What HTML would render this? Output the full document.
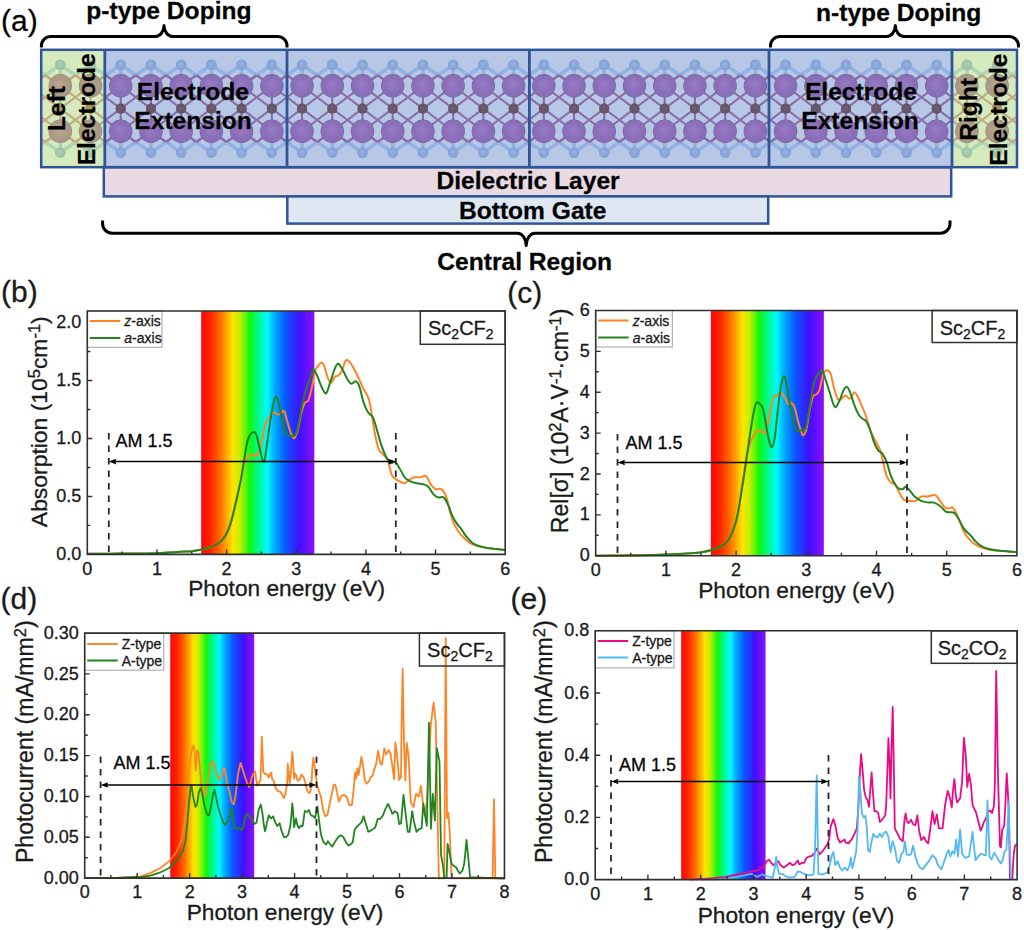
<!DOCTYPE html><html><head><meta charset="utf-8"><style>html,body{margin:0;padding:0;background:#fff;}svg{display:block;}text{stroke:#1a1a1a;stroke-width:0.3px;}</style></head><body>
<svg width="1024" height="930" viewBox="0 0 1024 930" font-family='"Liberation Sans", sans-serif'>
<rect width="1024" height="930" fill="#fff"/>
<defs>
<clipPath id="clip0"><rect x="41.2" y="49.8" width="63.599999999999994" height="117.39999999999999"/></clipPath>
<clipPath id="clip1"><rect x="104.8" y="49.8" width="847.2" height="117.39999999999999"/></clipPath>
<clipPath id="clip2"><rect x="952.0" y="49.8" width="65.0" height="117.39999999999999"/></clipPath>
<radialGradient id="gsc_blue" cx="50%" cy="50%" r="50%" fx="45%" fy="42%"><stop offset="0" stop-color="#987cc6"/><stop offset="0.7" stop-color="#8a6fb8"/><stop offset="0.92" stop-color="#8a6fb8"/><stop offset="1" stop-color="#6c5894"/></radialGradient>
<radialGradient id="gf_blue" cx="50%" cy="50%" r="50%" fx="45%" fy="42%"><stop offset="0" stop-color="#98b4e4"/><stop offset="0.7" stop-color="#86a4d8"/><stop offset="0.92" stop-color="#86a4d8"/><stop offset="1" stop-color="#6a8ac0"/></radialGradient>
<radialGradient id="gc_blue" cx="50%" cy="50%" r="50%" fx="45%" fy="42%"><stop offset="0" stop-color="#705e72"/><stop offset="0.7" stop-color="#665468"/><stop offset="0.92" stop-color="#665468"/><stop offset="1" stop-color="#4a3e4e"/></radialGradient>
<radialGradient id="gsc_green" cx="50%" cy="50%" r="50%" fx="45%" fy="42%"><stop offset="0" stop-color="#b8a894"/><stop offset="0.7" stop-color="#aa9a86"/><stop offset="0.92" stop-color="#aa9a86"/><stop offset="1" stop-color="#8a7c6c"/></radialGradient>
<radialGradient id="gf_green" cx="50%" cy="50%" r="50%" fx="45%" fy="42%"><stop offset="0" stop-color="#aed0b4"/><stop offset="0.7" stop-color="#a0c2a6"/><stop offset="0.92" stop-color="#a0c2a6"/><stop offset="1" stop-color="#84a88e"/></radialGradient>
<radialGradient id="gc_green" cx="50%" cy="50%" r="50%" fx="45%" fy="42%"><stop offset="0" stop-color="#ae9f5c"/><stop offset="0.7" stop-color="#a09254"/><stop offset="0.92" stop-color="#a09254"/><stop offset="1" stop-color="#807444"/></radialGradient>
</defs>
<defs><g id="col_blue">
<path d="M0 64.8L-15.11 75.30M0 64.8L15.11 75.30M0 64.8L0 75.30M0 152.6L-15.11 141.95M0 152.6L15.11 141.95M0 152.6L0 141.95" stroke="#92b2e4" stroke-width="3.6" fill="none"/>
<path d="M0 85.8L-15.11 75.30M0 85.8L15.11 75.30M0 85.8L0 75.30M0 131.3L-15.11 141.95M0 131.3L15.11 141.95M0 131.3L0 141.95" stroke="#8c6aa8" stroke-width="2.6" fill="none"/>
<path d="M0 85.8L-15.11 97.25M0 85.8L15.11 97.25M0 108.7L-15.11 97.25M0 108.7L15.11 97.25M0 108.7L-15.11 120.00M0 108.7L15.11 120.00M0 131.3L-15.11 120.00M0 131.3L15.11 120.00M0 85.8L0 131.3" stroke="#8c6aa8" stroke-width="2.1" fill="none"/>
<circle cx="0" cy="64.8" r="5.2" fill="url(#gf_blue)"/>
<circle cx="0" cy="152.6" r="5.2" fill="url(#gf_blue)"/>
<circle cx="0" cy="108.7" r="5.1" fill="url(#gc_blue)"/>
<circle cx="0" cy="85.8" r="11.7" fill="url(#gsc_blue)"/>
<circle cx="0" cy="131.3" r="11.7" fill="url(#gsc_blue)"/>
</g></defs>
<defs><g id="col_green">
<path d="M0 64.8L-15.11 75.30M0 64.8L15.11 75.30M0 64.8L0 75.30M0 152.6L-15.11 141.95M0 152.6L15.11 141.95M0 152.6L0 141.95" stroke="#b0d4b8" stroke-width="3.6" fill="none"/>
<path d="M0 85.8L-15.11 75.30M0 85.8L15.11 75.30M0 85.8L0 75.30M0 131.3L-15.11 141.95M0 131.3L15.11 141.95M0 131.3L0 141.95" stroke="#c2a97e" stroke-width="2.6" fill="none"/>
<path d="M0 85.8L-15.11 97.25M0 85.8L15.11 97.25M0 108.7L-15.11 97.25M0 108.7L15.11 97.25M0 108.7L-15.11 120.00M0 108.7L15.11 120.00M0 131.3L-15.11 120.00M0 131.3L15.11 120.00M0 85.8L0 131.3" stroke="#c2a97e" stroke-width="2.1" fill="none"/>
<circle cx="0" cy="64.8" r="5.2" fill="url(#gf_green)"/>
<circle cx="0" cy="152.6" r="5.2" fill="url(#gf_green)"/>
<circle cx="0" cy="108.7" r="5.1" fill="url(#gc_green)"/>
<circle cx="0" cy="85.8" r="11.7" fill="url(#gsc_green)"/>
<circle cx="0" cy="131.3" r="11.7" fill="url(#gsc_green)"/>
</g></defs>
<g clip-path="url(#clip0)">
<rect x="41.2" y="49.8" width="63.599999999999994" height="117.39999999999999" fill="#d5eabd"/>
<use href="#col_green" x="30.08"/>
<use href="#col_green" x="60.30"/>
<use href="#col_green" x="90.52"/>
<use href="#col_green" x="120.74"/>
</g>
<g clip-path="url(#clip1)">
<rect x="104.8" y="49.8" width="847.2" height="117.39999999999999" fill="#b7c8e6"/>
<use href="#col_blue" x="90.52"/>
<use href="#col_blue" x="120.74"/>
<use href="#col_blue" x="150.96"/>
<use href="#col_blue" x="181.18"/>
<use href="#col_blue" x="211.40"/>
<use href="#col_blue" x="241.62"/>
<use href="#col_blue" x="271.84"/>
<use href="#col_blue" x="302.06"/>
<use href="#col_blue" x="332.28"/>
<use href="#col_blue" x="362.50"/>
<use href="#col_blue" x="392.72"/>
<use href="#col_blue" x="422.94"/>
<use href="#col_blue" x="453.16"/>
<use href="#col_blue" x="483.38"/>
<use href="#col_blue" x="513.60"/>
<use href="#col_blue" x="543.82"/>
<use href="#col_blue" x="574.04"/>
<use href="#col_blue" x="604.26"/>
<use href="#col_blue" x="634.48"/>
<use href="#col_blue" x="664.70"/>
<use href="#col_blue" x="694.92"/>
<use href="#col_blue" x="725.14"/>
<use href="#col_blue" x="755.36"/>
<use href="#col_blue" x="785.58"/>
<use href="#col_blue" x="815.80"/>
<use href="#col_blue" x="846.02"/>
<use href="#col_blue" x="876.24"/>
<use href="#col_blue" x="906.46"/>
<use href="#col_blue" x="936.68"/>
<use href="#col_blue" x="966.90"/>
</g>
<g clip-path="url(#clip2)">
<rect x="952.0" y="49.8" width="65.0" height="117.39999999999999" fill="#d5eabd"/>
<use href="#col_green" x="936.68"/>
<use href="#col_green" x="966.90"/>
<use href="#col_green" x="997.12"/>
<use href="#col_green" x="1027.34"/>
</g>
<rect x="103.8" y="167.2" width="847.4000000000001" height="29.200000000000017" fill="#e8d9e2" stroke="#2f5597" stroke-width="2.5"/>
<rect x="287.3" y="196.4" width="480.90000000000003" height="27.19999999999999" fill="#dfe7f3" stroke="#2f5597" stroke-width="2.5"/>
<rect x="41.2" y="49.8" width="975.8" height="117.39999999999999" fill="none" stroke="#2f5597" stroke-width="2.5"/>
<line x1="104.8" y1="49.8" x2="104.8" y2="167.2" stroke="#2f5597" stroke-width="2.8"/>
<line x1="287.0" y1="49.8" x2="287.0" y2="167.2" stroke="#2f5597" stroke-width="2.8"/>
<line x1="529.4" y1="49.8" x2="529.4" y2="167.2" stroke="#2f5597" stroke-width="2.8"/>
<line x1="769.0" y1="49.8" x2="769.0" y2="167.2" stroke="#2f5597" stroke-width="2.8"/>
<line x1="952.0" y1="49.8" x2="952.0" y2="167.2" stroke="#2f5597" stroke-width="2.8"/>
<path d="M41.4,47.5 L41.4,45.9 A9.5,9.5 0 0 1 50.9,36.4 L155.3,36.4 A8.7,10.799999999999997 0 0 0 164.0,25.6 A8.7,10.799999999999997 0 0 0 172.7,36.4 L277.5,36.4 A9.5,9.5 0 0 1 287.0,45.9 L287.0,47.5" fill="none" stroke="#000" stroke-width="3.0" stroke-linejoin="round"/>
<path d="M770.5,47.5 L770.5,45.9 A9.5,9.5 0 0 1 780.0,36.4 L886.5999999999999,36.4 A8.7,10.799999999999997 0 0 0 895.3,25.6 A8.7,10.799999999999997 0 0 0 904.0,36.4 L1009.0,36.4 A9.5,9.5 0 0 1 1018.5,45.9 L1018.5,47.5" fill="none" stroke="#000" stroke-width="3.0" stroke-linejoin="round"/>
<path d="M102.6,220.5 L102.6,223.7 A9.5,9.5 0 0 0 112.1,233.2 L517.5,233.2 A8.7,12.400000000000006 0 0 1 526.2,245.6 A8.7,12.400000000000006 0 0 1 534.9000000000001,233.2 L940.5,233.2 A9.5,9.5 0 0 0 950.0,223.7 L950.0,220.5" fill="none" stroke="#000" stroke-width="3.0" stroke-linejoin="round"/>
<text x="168.9" y="19.2" font-size="24.6" font-weight="bold" text-anchor="middle" >p-type Doping</text>
<text x="898.7" y="20.5" font-size="24.6" font-weight="bold" text-anchor="middle" >n-type Doping</text>
<text x="528.1" y="188.8" font-size="24.6" font-weight="bold" text-anchor="middle" >Dielectric Layer</text>
<text x="532.7" y="219.3" font-size="24.6" font-weight="bold" text-anchor="middle" >Bottom Gate</text>
<text x="524.7" y="269.9" font-size="24.6" font-weight="bold" text-anchor="middle" >Central Region</text>
<text x="192.9" y="100.0" font-size="24.6" font-weight="bold" text-anchor="middle" >Electrode</text>
<text x="193.1" y="129.3" font-size="24.6" font-weight="bold" text-anchor="middle" >Extension</text>
<text x="861.0" y="100.0" font-size="24.6" font-weight="bold" text-anchor="middle" >Electrode</text>
<text x="860.0" y="129.3" font-size="24.6" font-weight="bold" text-anchor="middle" >Extension</text>
<text x="0" y="0" font-size="24.6" font-weight="bold" text-anchor="middle" transform="translate(65.4,108.7) rotate(-90)">Left</text>
<text x="0" y="0" font-size="24.6" font-weight="bold" text-anchor="middle" transform="translate(94.7,109.3) rotate(-90)">Electrode</text>
<text x="0" y="0" font-size="24.6" font-weight="bold" text-anchor="middle" transform="translate(977.2,109.4) rotate(-90)">Right</text>
<text x="0" y="0" font-size="24.6" font-weight="bold" text-anchor="middle" transform="translate(1007.2,109.6) rotate(-90)">Electrode</text>
<text x="1" y="30.5" font-size="30">(a)</text>
<defs><linearGradient id="spec_b" x1="0" x2="1" y1="0" y2="0"><stop offset="0" stop-color="#ff0808"/><stop offset="0.08" stop-color="#ff2400"/><stop offset="0.17" stop-color="#ff6e00"/><stop offset="0.28" stop-color="#ffe400"/><stop offset="0.34" stop-color="#c4f000"/><stop offset="0.43" stop-color="#10f810"/><stop offset="0.51" stop-color="#00f896"/><stop offset="0.585" stop-color="#00f8ff"/><stop offset="0.65" stop-color="#00aaff"/><stop offset="0.75" stop-color="#0a55ff"/><stop offset="0.87" stop-color="#4010ff"/><stop offset="1.0" stop-color="#8c10ff"/></linearGradient></defs>
<rect x="201.18" y="311.01" width="113.18" height="243.39" fill="url(#spec_b)"/>
<path d="M87.2 553.8C92.7 553.8 108.4 553.7 120.0 553.6C131.6 553.5 147.0 553.5 157.0 553.2C167.0 552.9 174.5 552.1 180.0 551.8C185.5 551.5 186.4 551.7 190.0 551.4C193.6 551.0 197.9 550.4 201.8 549.5C205.8 548.6 210.1 547.7 213.7 545.9C217.2 544.1 220.4 542.4 223.1 538.8C225.9 535.3 228.1 530.9 230.2 524.6C232.4 518.3 234.4 508.4 236.2 500.9C237.9 493.5 239.5 486.0 240.9 479.6C242.3 473.3 243.1 467.0 244.4 463.1C245.8 459.1 247.8 457.4 249.2 456.0C250.6 454.6 251.5 454.8 252.7 454.8C253.9 454.8 255.1 457.0 256.3 456.0C257.5 455.0 258.2 454.4 259.8 448.9C261.4 443.4 264.0 428.4 265.7 422.8C267.5 417.3 269.1 417.5 270.5 415.7C271.9 414.0 272.8 412.4 274.0 412.2C275.2 412.0 276.4 414.4 277.6 414.6C278.8 414.8 280.0 414.0 281.1 413.4C282.2 412.8 283.2 409.8 284.2 411.0C285.2 412.2 286.0 416.9 287.0 420.5C288.1 424.0 289.4 429.3 290.6 432.3C291.8 435.3 293.0 438.6 294.1 438.2C295.3 437.8 296.5 434.1 297.7 429.9C298.9 425.8 300.1 417.9 301.2 413.4C302.4 408.8 303.6 404.9 304.8 402.7C306.0 400.6 307.2 402.9 308.3 400.4C309.5 397.8 310.7 392.3 311.9 387.3C313.1 382.4 314.6 374.1 315.4 370.8C316.3 367.4 316.1 368.6 317.1 367.2C318.1 365.8 320.2 362.7 321.4 362.5C322.5 362.3 323.1 363.5 324.2 366.0C325.3 368.6 326.6 375.1 327.8 377.9C328.9 380.6 330.1 382.8 331.3 382.6C332.5 382.4 333.7 377.9 334.9 376.7C336.0 375.5 337.2 376.5 338.4 375.5C339.6 374.5 340.8 373.2 342.0 370.8C343.1 368.3 344.3 362.4 345.5 360.8C346.7 359.3 347.7 360.0 349.1 361.3C350.4 362.6 352.2 365.6 353.8 368.4C355.4 371.2 356.9 374.5 358.5 377.9C360.1 381.2 361.7 385.4 363.3 388.5C364.8 391.7 366.8 393.8 368.0 396.8C369.2 399.8 369.6 402.3 370.4 406.3C371.1 410.2 371.9 415.7 372.7 420.5C373.5 425.2 374.1 429.9 375.1 434.7C376.1 439.4 377.3 445.5 378.6 448.9C380.0 452.2 381.8 452.8 383.4 454.8C385.0 456.8 386.7 457.4 388.1 460.7C389.5 464.1 390.3 471.8 391.7 474.9C393.0 478.1 394.8 478.5 396.4 479.6C398.0 480.8 399.7 481.4 401.1 482.0C402.5 482.6 403.3 483.6 404.7 483.2C406.1 482.8 407.8 480.6 409.4 479.6C411.0 478.7 412.4 477.7 414.1 477.3C415.9 476.9 418.1 477.5 420.1 477.3C422.0 477.1 424.2 474.9 426.0 476.1C427.8 477.3 429.1 482.2 430.7 484.4C432.3 486.5 433.7 488.3 435.4 489.1C437.2 489.9 439.6 487.9 441.4 489.1C443.1 490.3 444.7 492.7 446.1 496.2C447.5 499.8 448.3 505.7 449.6 510.4C451.0 515.1 452.4 520.5 454.4 524.6C456.4 528.8 458.7 532.1 461.5 535.3C464.2 538.4 467.4 541.6 470.9 543.6C474.5 545.5 478.8 546.2 482.8 547.1C486.7 548.0 490.9 548.3 494.6 548.8C498.4 549.2 503.5 549.7 505.3 549.9" fill="none" stroke="#ff8424" stroke-width="2.0" stroke-linejoin="round"/>
<path d="M87.2 553.8C92.7 553.8 108.4 553.7 120.0 553.6C131.6 553.5 147.0 553.5 157.0 553.2C167.0 552.9 174.5 552.1 180.0 551.8C185.5 551.5 186.4 551.7 190.0 551.4C193.6 551.0 197.9 550.4 201.8 549.5C205.8 548.6 210.1 547.7 213.7 545.9C217.2 544.1 220.4 542.4 223.1 538.8C225.9 535.3 228.1 530.9 230.2 524.6C232.4 518.3 234.4 508.4 236.2 500.9C237.9 493.5 239.5 486.7 240.9 479.6C242.3 472.5 243.3 465.0 244.4 458.3C245.6 451.6 246.6 443.7 248.0 439.4C249.4 435.1 251.3 433.1 252.7 432.3C254.1 431.5 255.1 431.9 256.3 434.7C257.5 437.4 258.6 444.3 259.8 448.9C261.0 453.4 262.4 461.1 263.4 461.9C264.4 462.7 264.8 459.3 265.7 453.6C266.7 447.9 268.1 435.5 269.3 427.6C270.5 419.7 271.8 411.4 272.8 406.3C273.9 401.1 274.7 397.2 275.7 396.8C276.7 396.4 277.7 400.0 278.8 403.9C279.9 407.9 281.1 415.5 282.3 420.5C283.5 425.4 284.5 430.9 285.9 433.5C287.2 436.1 289.0 435.7 290.6 435.9C292.2 436.1 293.9 436.8 295.3 434.7C296.7 432.5 297.7 428.0 298.9 422.8C300.1 417.7 301.2 409.4 302.4 403.9C303.6 398.4 304.8 393.6 306.0 389.7C307.2 385.8 308.3 383.6 309.5 380.2C310.7 376.9 312.4 371.4 313.1 369.6C313.7 367.8 312.9 368.6 313.6 369.6C314.2 370.6 315.7 372.5 317.1 375.5C318.5 378.5 320.3 384.4 321.8 387.3C323.3 390.3 324.7 394.0 326.1 393.3C327.5 392.5 328.7 386.7 330.1 382.6C331.6 378.5 333.5 371.6 334.9 368.4C336.2 365.2 337.0 363.3 338.4 363.7C339.8 364.1 341.6 368.0 343.1 370.8C344.7 373.5 346.5 378.1 347.9 380.2C349.3 382.4 350.0 383.6 351.4 383.8C352.8 384.0 354.8 380.8 356.2 381.4C357.5 382.0 358.5 384.0 359.7 387.3C360.9 390.7 361.9 397.4 363.3 401.5C364.6 405.7 366.4 409.6 368.0 412.2C369.6 414.8 371.3 414.4 372.7 416.9C374.1 419.5 374.9 423.0 376.3 427.6C377.7 432.1 379.4 439.4 381.0 444.1C382.6 448.9 384.2 452.8 385.7 456.0C387.3 459.1 388.9 462.1 390.5 463.1C392.1 464.1 393.6 460.9 395.2 461.9C396.8 462.9 398.4 466.4 399.9 469.0C401.5 471.6 403.1 475.3 404.7 477.3C406.3 479.3 407.4 479.8 409.4 480.8C411.4 481.8 414.1 482.6 416.5 483.2C418.9 483.8 421.6 483.8 423.6 484.4C425.6 485.0 426.8 485.2 428.3 486.7C429.9 488.3 431.5 492.1 433.1 493.8C434.7 495.6 436.0 496.8 437.8 497.4C439.6 498.0 442.0 496.0 443.7 497.4C445.5 498.8 447.1 502.7 448.5 505.7C449.8 508.6 450.6 512.2 452.0 515.1C453.4 518.1 455.2 521.1 456.7 523.4C458.3 525.8 459.9 527.2 461.5 529.3C463.1 531.5 464.2 534.1 466.2 536.4C468.2 538.8 470.6 541.8 473.3 543.6C476.1 545.3 479.2 546.2 482.8 547.1C486.3 548.0 490.9 548.3 494.6 548.8C498.4 549.2 503.5 549.7 505.3 549.9" fill="none" stroke="#208520" stroke-width="2.0" stroke-linejoin="round"/>
<rect x="420.3" y="311.0" width="84.89999999999998" height="33.30000000000001" fill="none" stroke="#303030" stroke-width="1.5"/>
<text x="460.8" y="335.0" font-size="20" text-anchor="middle" fill="#1a1a1a">Sc<tspan baseline-shift="-4" font-size="14">2</tspan>CF<tspan baseline-shift="-4" font-size="14">2</tspan></text>
<line x1="108.8" y1="433.0" x2="108.8" y2="554.4" stroke="#262626" stroke-width="1.8" stroke-dasharray="6.5 6"/>
<line x1="395.8" y1="433.0" x2="395.8" y2="554.4" stroke="#262626" stroke-width="1.8" stroke-dasharray="6.5 6"/>
<line x1="113.8" y1="461.6" x2="390.8" y2="461.6" stroke="#000" stroke-width="1.5"/>
<path d="M108.8 461.6L116.3 458.8L115.3 461.6L116.3 464.40000000000003Z" fill="#000"/>
<path d="M395.8 461.6L388.3 458.8L389.3 461.6L388.3 464.40000000000003Z" fill="#000"/>
<text x="115.5" y="447.2" font-size="18">AM 1.5</text>
<path d="M122.12 554.4L122.12 551.4M156.95 554.4L156.95 549.4M191.78 554.4L191.78 551.4M226.60 554.4L226.60 549.4M261.43 554.4L261.43 551.4M296.25 554.4L296.25 549.4M331.08 554.4L331.08 551.4M365.90 554.4L365.90 549.4M400.73 554.4L400.73 551.4M435.55 554.4L435.55 549.4M470.38 554.4L470.38 551.4M87.3 525.42L90.3 525.42M87.3 496.45L92.3 496.45M87.3 467.47L90.3 467.47M87.3 438.50L92.3 438.50M87.3 409.52L90.3 409.52M87.3 380.55L92.3 380.55M87.3 351.57L90.3 351.57" stroke="#303030" stroke-width="1.4"/>
<text x="87.30" y="574.6" font-size="18" text-anchor="middle" fill="#1a1a1a">0</text>
<text x="156.95" y="574.6" font-size="18" text-anchor="middle" fill="#1a1a1a">1</text>
<text x="226.60" y="574.6" font-size="18" text-anchor="middle" fill="#1a1a1a">2</text>
<text x="296.25" y="574.6" font-size="18" text-anchor="middle" fill="#1a1a1a">3</text>
<text x="365.90" y="574.6" font-size="18" text-anchor="middle" fill="#1a1a1a">4</text>
<text x="435.55" y="574.6" font-size="18" text-anchor="middle" fill="#1a1a1a">5</text>
<text x="505.20" y="574.6" font-size="18" text-anchor="middle" fill="#1a1a1a">6</text>
<text x="81.3" y="560.0" font-size="18" text-anchor="end" fill="#1a1a1a">0.0</text>
<text x="81.3" y="502.1" font-size="18" text-anchor="end" fill="#1a1a1a">0.5</text>
<text x="81.3" y="444.1" font-size="18" text-anchor="end" fill="#1a1a1a">1.0</text>
<text x="81.3" y="386.1" font-size="18" text-anchor="end" fill="#1a1a1a">1.5</text>
<text x="81.3" y="328.2" font-size="18" text-anchor="end" fill="#1a1a1a">2.0</text>
<text x="286.6" y="595.8" font-size="22.7" text-anchor="middle" fill="#1a1a1a">Photon energy (eV)</text>
<text transform="translate(47.4,421.7) rotate(-90)" font-size="22.9" text-anchor="middle" fill="#1a1a1a">Absorption (10<tspan baseline-shift="7.5" font-size="16.5">5</tspan>cm<tspan baseline-shift="7.5" font-size="16.5">-1</tspan>)</text>
<rect x="87.3" y="311.0" width="74.7" height="36.30000000000001" fill="#fff" stroke="#a0a0a0" stroke-width="1"/>
<line x1="89.8" y1="321.0" x2="120.3" y2="321.0" stroke="#ff8424" stroke-width="2"/>
<text x="124.3" y="326.0" font-size="14" fill="#1a1a1a"><tspan font-style="italic">z</tspan>-axis</text>
<line x1="89.8" y1="338.0" x2="120.3" y2="338.0" stroke="#208520" stroke-width="2"/>
<text x="124.3" y="343.0" font-size="14" fill="#1a1a1a"><tspan font-style="italic">a</tspan>-axis</text>
<path d="M87.3 311.01L87.3 554.4L505.20000000000005 554.4L505.20000000000005 311.01Z" fill="none" stroke="#303030" stroke-width="1.6"/>
<text x="1.0" y="301.8" font-size="30" fill="#1a1a1a">(b)</text>
<defs><linearGradient id="spec_c" x1="0" x2="1" y1="0" y2="0"><stop offset="0" stop-color="#ff0808"/><stop offset="0.08" stop-color="#ff2400"/><stop offset="0.17" stop-color="#ff6e00"/><stop offset="0.28" stop-color="#ffe400"/><stop offset="0.34" stop-color="#c4f000"/><stop offset="0.43" stop-color="#10f810"/><stop offset="0.51" stop-color="#00f896"/><stop offset="0.585" stop-color="#00f8ff"/><stop offset="0.65" stop-color="#00aaff"/><stop offset="0.75" stop-color="#0a55ff"/><stop offset="0.87" stop-color="#4010ff"/><stop offset="1.0" stop-color="#8c10ff"/></linearGradient></defs>
<rect x="710.83" y="310.48" width="113.02" height="245.22" fill="url(#spec_c)"/>
<path d="M595.7 555.7C603.1 555.6 628.2 555.5 640.0 555.3C651.8 555.1 658.0 554.9 666.5 554.6C675.0 554.3 685.3 553.7 690.9 553.3C696.5 552.9 696.7 553.0 700.0 552.5C703.3 552.0 707.2 551.4 710.8 550.3C714.3 549.2 718.6 547.6 721.5 546.0C724.4 544.4 726.0 543.3 728.0 540.6C729.9 538.0 731.7 534.2 733.3 529.9C734.9 525.6 736.4 520.9 737.6 514.8C738.9 508.7 739.8 500.5 740.9 493.3C741.9 486.2 743.0 478.6 744.1 471.8C745.2 465.0 746.1 457.8 747.3 452.5C748.6 447.1 750.2 443.0 751.6 439.6C753.0 436.2 754.7 433.7 755.9 432.0C757.2 430.4 758.1 429.9 759.1 429.9C760.2 429.9 761.5 431.5 762.4 432.0C763.3 432.6 763.6 434.4 764.5 433.1C765.4 431.9 766.7 428.8 767.7 424.5C768.8 420.2 769.9 412.0 771.0 407.3C772.0 402.7 773.1 398.5 774.2 396.6C775.3 394.6 776.2 396.0 777.4 395.5C778.7 394.9 780.5 393.0 781.7 393.3C783.0 393.7 783.9 395.8 784.9 397.6C786.0 399.4 787.1 403.2 788.2 404.1C789.2 405.0 790.3 402.5 791.4 403.0C792.5 403.5 793.5 404.4 794.6 407.3C795.7 410.2 796.8 416.3 797.8 420.2C798.9 424.2 800.2 428.5 801.1 431.0C802.0 433.5 802.3 435.6 803.2 435.3C804.1 434.9 805.4 433.1 806.5 428.8C807.5 424.5 808.6 414.8 809.7 409.5C810.8 404.1 811.8 399.1 812.9 396.6C814.0 394.1 815.1 395.5 816.1 394.4C817.2 393.3 818.1 393.7 819.4 390.1C820.6 386.5 822.4 376.2 823.7 372.9C824.9 369.6 826.2 370.8 826.9 370.3C827.5 369.9 826.9 369.7 827.5 370.3C828.2 370.9 829.7 371.0 830.8 374.0C831.8 376.9 832.7 383.7 834.0 388.0C835.2 392.3 836.8 398.2 838.3 399.8C839.7 401.4 841.3 398.4 842.6 397.6C843.8 396.9 844.6 395.3 845.8 395.5C847.1 395.7 848.7 399.2 850.1 398.7C851.5 398.2 853.2 392.6 854.4 392.3C855.7 391.9 856.4 394.2 857.6 396.6C858.9 398.9 860.5 402.8 861.9 406.2C863.4 409.6 864.8 412.9 866.2 417.0C867.7 421.1 868.9 426.8 870.5 431.0C872.2 435.1 874.3 438.5 875.9 441.7C877.5 444.9 879.0 446.7 880.2 450.3C881.5 453.9 882.4 458.9 883.4 463.2C884.5 467.5 885.4 472.9 886.7 476.1C887.9 479.4 889.5 481.1 891.0 482.6C892.4 484.0 893.8 482.9 895.3 484.7C896.7 486.5 898.1 490.8 899.6 493.3C901.0 495.8 902.1 498.5 903.9 499.8C905.7 501.0 908.4 500.7 910.3 500.9C912.3 501.0 913.9 501.6 915.7 500.9C917.5 500.1 919.1 497.3 921.1 496.6C923.0 495.8 925.2 496.8 927.5 496.6C929.9 496.3 933.1 494.5 935.1 495.1C937.0 495.6 937.7 497.7 939.4 499.8C941.0 501.8 943.1 505.9 944.7 507.3C946.3 508.7 947.8 508.4 949.0 508.4C950.3 508.4 951.2 506.8 952.3 507.3C953.3 507.8 954.2 509.3 955.5 511.6C956.7 513.9 958.4 517.9 959.8 521.3C961.2 524.7 962.3 528.8 964.1 532.0C965.9 535.3 968.0 538.2 970.5 540.6C973.0 543.1 975.9 545.2 979.1 546.7C982.4 548.2 985.9 549.0 989.9 549.7C993.8 550.4 998.3 550.6 1002.8 551.0C1007.3 551.4 1014.4 551.9 1016.8 552.0" fill="none" stroke="#ff8424" stroke-width="2.0" stroke-linejoin="round"/>
<path d="M595.7 555.7C603.1 555.6 628.2 555.5 640.0 555.3C651.8 555.1 658.0 554.9 666.5 554.6C675.0 554.3 685.3 553.7 690.9 553.3C696.5 552.9 696.7 553.0 700.0 552.5C703.3 552.0 707.2 551.4 710.8 550.3C714.3 549.2 718.6 547.6 721.5 546.0C724.4 544.4 726.0 543.3 728.0 540.6C729.9 538.0 731.7 534.2 733.3 529.9C734.9 525.6 736.2 521.6 737.6 514.8C739.1 508.0 740.5 498.0 741.9 489.0C743.4 480.1 744.8 470.8 746.2 461.1C747.7 451.4 749.3 439.2 750.5 431.0C751.8 422.7 752.8 416.3 753.8 411.6C754.7 407.0 755.4 404.4 756.3 403.0C757.2 401.6 758.1 402.1 759.1 403.0C760.2 403.9 761.7 405.2 762.8 408.4C763.9 411.6 764.6 417.2 765.6 422.4C766.6 427.6 767.7 435.4 768.8 439.6C769.9 443.7 771.0 447.5 772.0 447.1C773.0 446.7 773.9 443.0 774.8 437.4C775.7 431.9 776.6 421.3 777.4 413.8C778.3 406.2 779.1 398.2 780.0 392.3C780.9 386.3 782.0 380.8 782.8 378.3C783.6 375.8 784.2 375.6 784.9 377.2C785.7 378.8 786.2 382.9 787.1 388.0C788.0 393.0 789.1 400.9 790.3 407.3C791.6 413.8 793.4 422.7 794.6 426.7C795.9 430.6 796.6 430.4 797.8 431.0C799.1 431.5 800.9 430.3 802.2 429.9C803.4 429.5 804.3 431.5 805.4 428.8C806.5 426.1 807.5 419.5 808.6 413.8C809.7 408.0 810.8 400.1 811.8 394.4C812.9 388.7 813.8 382.9 815.1 379.4C816.3 375.8 818.1 374.3 819.4 372.9C820.6 371.5 821.6 369.7 822.6 370.8C823.6 371.8 824.2 375.8 825.4 379.4C826.6 382.9 828.4 388.3 829.7 392.3C830.9 396.2 831.9 400.5 832.9 403.0C833.9 405.5 834.4 407.7 835.5 407.3C836.6 407.0 838.0 403.7 839.4 400.9C840.7 398.0 842.4 392.4 843.7 390.1C844.9 387.8 845.8 386.5 846.9 386.9C848.0 387.2 848.9 389.2 850.1 392.3C851.4 395.3 853.0 401.4 854.4 405.2C855.8 408.9 857.3 412.5 858.7 414.8C860.1 417.2 861.8 418.1 863.0 419.1C864.3 420.2 865.0 419.3 866.2 421.3C867.5 423.3 869.3 427.6 870.5 431.0C871.8 434.4 872.5 438.5 873.8 441.7C875.0 444.9 876.6 448.4 878.1 450.3C879.5 452.3 880.9 451.6 882.4 453.5C883.8 455.5 885.2 458.4 886.7 462.2C888.1 465.9 889.5 472.4 891.0 476.1C892.4 479.9 893.8 482.6 895.3 484.7C896.7 486.9 898.3 488.3 899.6 489.0C900.8 489.7 901.7 489.4 902.8 489.0C903.9 488.7 904.8 486.5 906.0 486.9C907.3 487.2 908.9 489.6 910.3 491.2C911.8 492.8 912.8 494.9 914.6 496.6C916.4 498.2 918.9 499.9 921.1 500.9C923.2 501.8 925.4 502.1 927.5 502.4C929.7 502.7 931.8 501.9 934.0 502.6C936.1 503.2 938.5 504.7 940.4 506.2C942.4 507.7 944.2 510.6 945.8 511.6C947.4 512.6 948.7 512.0 950.1 512.3C951.5 512.5 953.0 512.0 954.4 513.1C955.8 514.3 957.1 516.5 958.7 519.1C960.3 521.8 962.1 526.1 964.1 528.8C966.1 531.5 968.7 533.3 970.5 535.3C972.3 537.2 973.0 538.9 974.8 540.6C976.6 542.4 978.8 544.6 981.3 546.0C983.8 547.5 986.3 548.4 989.9 549.2C993.5 550.1 998.3 550.5 1002.8 551.0C1007.3 551.4 1014.4 551.9 1016.8 552.0" fill="none" stroke="#208520" stroke-width="2.0" stroke-linejoin="round"/>
<rect x="932.1" y="310.5" width="84.89999999999998" height="32.0" fill="none" stroke="#303030" stroke-width="1.5"/>
<text x="972.5" y="334.5" font-size="20" text-anchor="middle" fill="#1a1a1a">Sc<tspan baseline-shift="-4" font-size="14">2</tspan>CF<tspan baseline-shift="-4" font-size="14">2</tspan></text>
<line x1="617.5" y1="434.0" x2="617.5" y2="555.7" stroke="#262626" stroke-width="1.8" stroke-dasharray="6.5 6"/>
<line x1="907.0" y1="434.0" x2="907.0" y2="555.7" stroke="#262626" stroke-width="1.8" stroke-dasharray="6.5 6"/>
<line x1="622.5" y1="462.5" x2="902.0" y2="462.5" stroke="#000" stroke-width="1.5"/>
<path d="M617.5 462.5L625.0 459.7L624.0 462.5L625.0 465.3Z" fill="#000"/>
<path d="M907.0 462.5L899.5 459.7L900.5 462.5L899.5 465.3Z" fill="#000"/>
<text x="625.5" y="448.5" font-size="18">AM 1.5</text>
<path d="M630.80 555.7L630.80 552.7M665.90 555.7L665.90 550.7M701.00 555.7L701.00 552.7M736.10 555.7L736.10 550.7M771.20 555.7L771.20 552.7M806.30 555.7L806.30 550.7M841.40 555.7L841.40 552.7M876.50 555.7L876.50 550.7M911.60 555.7L911.60 552.7M946.70 555.7L946.70 550.7M981.80 555.7L981.80 552.7M595.7 535.27L598.7 535.27M595.7 514.83L600.7 514.83M595.7 494.40L598.7 494.40M595.7 473.96L600.7 473.96M595.7 453.53L598.7 453.53M595.7 433.09L600.7 433.09M595.7 412.66L598.7 412.66M595.7 392.22L600.7 392.22M595.7 371.79L598.7 371.79M595.7 351.35L600.7 351.35M595.7 330.92L598.7 330.92" stroke="#303030" stroke-width="1.4"/>
<text x="595.70" y="575.9" font-size="18" text-anchor="middle" fill="#1a1a1a">0</text>
<text x="665.90" y="575.9" font-size="18" text-anchor="middle" fill="#1a1a1a">1</text>
<text x="736.10" y="575.9" font-size="18" text-anchor="middle" fill="#1a1a1a">2</text>
<text x="806.30" y="575.9" font-size="18" text-anchor="middle" fill="#1a1a1a">3</text>
<text x="876.50" y="575.9" font-size="18" text-anchor="middle" fill="#1a1a1a">4</text>
<text x="946.70" y="575.9" font-size="18" text-anchor="middle" fill="#1a1a1a">5</text>
<text x="1016.90" y="575.9" font-size="18" text-anchor="middle" fill="#1a1a1a">6</text>
<text x="589.7" y="561.3" font-size="18" text-anchor="end" fill="#1a1a1a">0</text>
<text x="589.7" y="520.4" font-size="18" text-anchor="end" fill="#1a1a1a">1</text>
<text x="589.7" y="479.6" font-size="18" text-anchor="end" fill="#1a1a1a">2</text>
<text x="589.7" y="438.7" font-size="18" text-anchor="end" fill="#1a1a1a">3</text>
<text x="589.7" y="397.8" font-size="18" text-anchor="end" fill="#1a1a1a">4</text>
<text x="589.7" y="357.0" font-size="18" text-anchor="end" fill="#1a1a1a">5</text>
<text x="589.7" y="316.1" font-size="18" text-anchor="end" fill="#1a1a1a">6</text>
<text x="796.5" y="597.5" font-size="22.7" text-anchor="middle" fill="#1a1a1a">Photon energy (eV)</text>
<text transform="translate(568.0,420.9) rotate(-90)" font-size="23.1" text-anchor="middle" fill="#1a1a1a">Rel[σ] (10<tspan baseline-shift="7.5" font-size="16.5">2</tspan>A·V<tspan baseline-shift="7.5" font-size="16.5">-1</tspan>·cm<tspan baseline-shift="7.5" font-size="16.5">-1</tspan>)</text>
<rect x="595.7" y="310.5" width="76.59999999999991" height="36.5" fill="#fff" stroke="#a0a0a0" stroke-width="1"/>
<line x1="598.2" y1="320.5" x2="628.7" y2="320.5" stroke="#ff8424" stroke-width="2"/>
<text x="632.7" y="325.5" font-size="14" fill="#1a1a1a"><tspan font-style="italic">z</tspan>-axis</text>
<line x1="598.2" y1="337.5" x2="628.7" y2="337.5" stroke="#208520" stroke-width="2"/>
<text x="632.7" y="342.5" font-size="14" fill="#1a1a1a"><tspan font-style="italic">a</tspan>-axis</text>
<path d="M595.7 310.4800000000001L595.7 555.7L1016.9000000000001 555.7L1016.9000000000001 310.4800000000001Z" fill="none" stroke="#303030" stroke-width="1.6"/>
<text x="507.2" y="302.5" font-size="30" fill="#1a1a1a">(c)</text>
<defs><linearGradient id="spec_d" x1="0" x2="1" y1="0" y2="0"><stop offset="0" stop-color="#ff0808"/><stop offset="0.08" stop-color="#ff2400"/><stop offset="0.17" stop-color="#ff6e00"/><stop offset="0.28" stop-color="#ffe400"/><stop offset="0.34" stop-color="#c4f000"/><stop offset="0.43" stop-color="#10f810"/><stop offset="0.51" stop-color="#00f896"/><stop offset="0.585" stop-color="#00f8ff"/><stop offset="0.65" stop-color="#00aaff"/><stop offset="0.75" stop-color="#0a55ff"/><stop offset="0.87" stop-color="#4010ff"/><stop offset="1.0" stop-color="#8c10ff"/></linearGradient></defs>
<rect x="170.23" y="633.09" width="83.95" height="245.01" fill="url(#spec_d)"/>
<path d="M84.7 878.1L117.7 877.6L140.0 876.6L150.3 873.1L160.6 868.0L169.2 861.1L176.1 852.5L181.3 840.4L184.7 823.2L187.3 797.4L189.0 771.6L190.8 754.4L192.5 747.5L193.7 745.8L194.7 752.7L195.6 770.8L196.4 763.0L197.3 750.1L198.5 752.7L199.9 769.9L201.6 785.4L203.7 794.0L205.0 795.7L206.2 792.3L208.5 776.8L210.5 764.7L212.3 761.3L214.3 764.7L216.6 773.3L219.1 780.2L221.7 775.1L224.0 768.2L225.2 771.6L226.9 781.9L229.5 792.3L232.0 802.6L233.8 804.3L235.5 795.7L238.1 773.3L240.6 763.0L242.4 768.2L244.9 776.8L247.5 783.7L249.2 787.1L250.0 785.2L251.6 777.6L253.2 774.4L255.2 771.2L256.2 779.8L257.5 785.7L258.6 783.0L260.5 780.3L261.3 756.1L261.8 736.8L262.9 761.5L263.4 772.3L265.1 773.9L267.2 774.4L268.8 777.6L270.4 773.3L271.3 772.8L272.0 778.7L273.7 780.9L275.8 788.4L278.0 791.1L280.1 791.6L282.3 794.8L283.9 798.1L285.5 793.8L287.1 783.0L287.8 763.7L288.7 772.3L289.6 784.1L290.9 772.3L292.3 751.8L293.2 761.5L294.1 778.7L295.2 773.3L296.2 775.5L297.8 780.9L299.5 779.8L301.6 774.4L303.8 777.6L305.4 783.0L307.0 790.5L308.6 792.7L310.2 792.7L311.3 786.2L312.4 766.9L313.4 757.7L314.5 765.8L315.8 775.5L317.2 785.2L318.8 790.5L321.0 797.0L323.1 809.9L325.3 816.3L327.4 815.3L331.3 795.7L333.9 784.5L335.6 785.4L337.3 794.0L339.0 801.7L341.6 795.7L344.2 794.8L346.8 797.4L349.4 805.2L351.9 805.2L353.7 788.8L355.0 772.5L356.2 778.5L357.4 768.2L358.5 775.1L359.7 768.2L361.4 757.0L363.1 766.5L364.8 780.2L366.6 783.7L369.1 781.1L370.9 776.8L372.6 775.9L374.3 769.0L376.0 764.7L378.1 751.0L380.3 763.0L382.0 764.7L384.3 748.4L386.0 754.4L387.2 752.7L388.9 750.1L390.6 754.4L392.4 766.5L394.1 779.4L395.3 742.4L397.0 754.4L399.2 780.2L401.0 776.8L401.3 742.8L402.7 668.9L404.0 742.8L405.4 780.4L406.7 742.8L408.6 756.2L410.7 801.9L413.4 807.2L416.1 793.8L418.8 796.5L420.9 785.8L422.8 801.9L424.7 815.3L426.9 801.9L430.9 724.0L433.6 702.5L435.7 721.3L437.6 818.0L438.9 878.4L444.3 878.4L445.7 638.1L447.0 818.0L448.3 812.6L449.7 831.4L451.6 878.4L492.6 878.4L494.0 799.2L495.3 878.4L505.0 878.4" fill="none" stroke="#ff8424" stroke-width="1.8" stroke-linejoin="round"/>
<path d="M84.7 878.1L117.7 878.0L137.2 876.9L140.0 877.4L150.3 875.7L160.6 872.3L169.2 868.0L177.8 859.4L183.0 850.8L185.6 840.4L187.3 823.2L189.0 802.6L190.8 786.2L191.6 786.2L193.3 797.4L195.4 806.9L197.1 804.3L198.8 792.3L200.6 788.0L202.3 794.0L204.5 806.0L207.1 814.6L209.2 815.5L211.4 804.3L213.1 794.0L214.5 789.7L216.2 797.4L218.3 807.7L220.9 816.3L223.4 823.2L225.2 824.9L227.4 821.5L229.5 816.3L231.2 807.7L232.6 816.3L234.3 826.7L236.3 829.2L238.9 827.5L241.5 830.1L243.2 827.5L244.6 819.8L246.7 813.8L249.2 816.3L250.0 817.4L252.2 819.6L254.3 823.9L256.5 822.8L258.6 809.9L260.8 804.5L262.4 813.1L264.0 826.0L265.1 831.4L266.7 823.9L268.8 815.3L271.0 818.5L273.1 816.3L275.3 822.8L277.4 826.0L279.6 823.3L281.7 831.4L283.9 836.8L286.0 837.3L288.2 834.6L290.3 826.0L291.4 815.3L292.3 803.4L293.0 809.9L294.1 827.1L296.0 818.5L297.3 824.9L298.9 828.2L300.5 826.0L302.7 826.0L304.8 811.0L307.0 812.0L308.9 809.9L310.8 815.3L312.9 815.8L315.1 818.0L316.7 808.8L317.5 806.7L318.8 818.5L321.0 834.6L323.5 842.2L326.1 844.7L327.8 841.3L330.4 844.7L332.2 846.5L334.7 842.2L338.2 837.0L340.8 835.3L343.3 837.0L345.9 842.2L348.5 845.6L351.1 843.9L352.8 842.2L354.5 830.1L356.2 827.5L358.8 824.9L361.4 822.4L363.6 816.3L365.7 823.2L368.3 831.8L371.7 830.1L375.2 827.5L377.7 818.9L380.3 818.9L382.9 815.5L385.5 808.6L388.1 804.0L389.8 807.7L392.4 813.8L394.9 811.2L397.5 812.9L399.2 824.1L401.0 823.2L403.5 794.8L405.3 811.2L407.8 831.8L409.6 831.8L412.2 811.2L413.9 821.5L416.5 831.8L419.0 829.2L421.6 828.4L423.3 803.4L425.1 815.5L426.8 825.8L426.9 823.4L429.0 722.6L430.9 828.7L432.8 793.8L434.9 820.7L436.8 748.2L439.5 761.6L440.5 824.4L441.1 855.4L443.0 865.7L444.1 877.5L446.6 877.5L447.6 843.8L449.5 852.8L451.4 863.1L453.4 865.7L455.9 867.0L457.9 870.8L459.8 873.4L462.4 870.8L464.3 863.1L466.5 839.9L468.2 856.6L470.1 877.5L475.0 877.5L505.0 878.6" fill="none" stroke="#208520" stroke-width="1.8" stroke-linejoin="round"/>
<rect x="419.4" y="633.1" width="85.10000000000002" height="32.89999999999998" fill="none" stroke="#303030" stroke-width="1.5"/>
<text x="459.9" y="657.1" font-size="20" text-anchor="middle" fill="#1a1a1a">Sc<tspan baseline-shift="-4" font-size="14">2</tspan>CF<tspan baseline-shift="-4" font-size="14">2</tspan></text>
<line x1="100.6" y1="756.5" x2="100.6" y2="878.1" stroke="#262626" stroke-width="1.8" stroke-dasharray="6.5 6"/>
<line x1="316.5" y1="756.5" x2="316.5" y2="878.1" stroke="#262626" stroke-width="1.8" stroke-dasharray="6.5 6"/>
<line x1="105.6" y1="785.0" x2="311.5" y2="785.0" stroke="#000" stroke-width="1.5"/>
<path d="M100.6 785.0L108.1 782.2L107.1 785.0L108.1 787.8Z" fill="#000"/>
<path d="M316.5 785.0L309.0 782.2L310.0 785.0L309.0 787.8Z" fill="#000"/>
<text x="113.5" y="769.0" font-size="18">AM 1.5</text>
<path d="M110.94 878.1L110.94 875.1M137.17 878.1L137.17 873.1M163.41 878.1L163.41 875.1M189.64 878.1L189.64 873.1M215.88 878.1L215.88 875.1M242.11 878.1L242.11 873.1M268.34 878.1L268.34 875.1M294.58 878.1L294.58 873.1M320.81 878.1L320.81 875.1M347.05 878.1L347.05 873.1M373.28 878.1L373.28 875.1M399.52 878.1L399.52 873.1M425.75 878.1L425.75 875.1M451.99 878.1L451.99 873.1M478.22 878.1L478.22 875.1M84.7 857.68L87.7 857.68M84.7 837.26L89.7 837.26M84.7 816.85L87.7 816.85M84.7 796.43L89.7 796.43M84.7 776.01L87.7 776.01M84.7 755.60L89.7 755.60M84.7 735.18L87.7 735.18M84.7 714.76L89.7 714.76M84.7 694.34L87.7 694.34M84.7 673.92L89.7 673.92M84.7 653.51L87.7 653.51" stroke="#303030" stroke-width="1.4"/>
<text x="84.70" y="898.3" font-size="18" text-anchor="middle" fill="#1a1a1a">0</text>
<text x="137.17" y="898.3" font-size="18" text-anchor="middle" fill="#1a1a1a">1</text>
<text x="189.64" y="898.3" font-size="18" text-anchor="middle" fill="#1a1a1a">2</text>
<text x="242.11" y="898.3" font-size="18" text-anchor="middle" fill="#1a1a1a">3</text>
<text x="294.58" y="898.3" font-size="18" text-anchor="middle" fill="#1a1a1a">4</text>
<text x="347.05" y="898.3" font-size="18" text-anchor="middle" fill="#1a1a1a">5</text>
<text x="399.52" y="898.3" font-size="18" text-anchor="middle" fill="#1a1a1a">6</text>
<text x="451.99" y="898.3" font-size="18" text-anchor="middle" fill="#1a1a1a">7</text>
<text x="504.46" y="898.3" font-size="18" text-anchor="middle" fill="#1a1a1a">8</text>
<text x="78.7" y="883.7" font-size="18" text-anchor="end" fill="#1a1a1a">0.00</text>
<text x="78.7" y="842.9" font-size="18" text-anchor="end" fill="#1a1a1a">0.05</text>
<text x="78.7" y="802.0" font-size="18" text-anchor="end" fill="#1a1a1a">0.10</text>
<text x="78.7" y="761.2" font-size="18" text-anchor="end" fill="#1a1a1a">0.15</text>
<text x="78.7" y="720.4" font-size="18" text-anchor="end" fill="#1a1a1a">0.20</text>
<text x="78.7" y="679.5" font-size="18" text-anchor="end" fill="#1a1a1a">0.25</text>
<text x="78.7" y="638.7" font-size="18" text-anchor="end" fill="#1a1a1a">0.30</text>
<text x="285.0" y="920.0" font-size="22.7" text-anchor="middle" fill="#1a1a1a">Photon energy (eV)</text>
<text transform="translate(32.5,741.7) rotate(-90)" font-size="23.1" text-anchor="middle" fill="#1a1a1a">Photocurrent (mA/mm<tspan baseline-shift="7.5" font-size="16.5">2</tspan>)</text>
<rect x="84.7" y="633.1" width="79.10000000000001" height="37.10000000000002" fill="#fff" stroke="#a0a0a0" stroke-width="1"/>
<line x1="87.2" y1="644.0" x2="117.7" y2="644.0" stroke="#ff8424" stroke-width="2"/>
<text x="121.7" y="649.0" font-size="14" fill="#1a1a1a">Z-type</text>
<line x1="87.2" y1="660.5" x2="117.7" y2="660.5" stroke="#208520" stroke-width="2"/>
<text x="121.7" y="665.5" font-size="14" fill="#1a1a1a">A-type</text>
<path d="M84.7 633.09L84.7 878.1L504.46 878.1L504.46 633.09Z" fill="none" stroke="#303030" stroke-width="1.6"/>
<text x="0.6" y="609.0" font-size="30" fill="#1a1a1a">(d)</text>
<defs><linearGradient id="spec_e" x1="0" x2="1" y1="0" y2="0"><stop offset="0" stop-color="#ff0808"/><stop offset="0.08" stop-color="#ff2400"/><stop offset="0.17" stop-color="#ff6e00"/><stop offset="0.28" stop-color="#ffe400"/><stop offset="0.34" stop-color="#c4f000"/><stop offset="0.43" stop-color="#10f810"/><stop offset="0.51" stop-color="#00f896"/><stop offset="0.585" stop-color="#00f8ff"/><stop offset="0.65" stop-color="#00aaff"/><stop offset="0.75" stop-color="#0a55ff"/><stop offset="0.87" stop-color="#4010ff"/><stop offset="1.0" stop-color="#8c10ff"/></linearGradient></defs>
<rect x="681.17" y="630.80" width="84.38" height="248.80" fill="url(#spec_e)"/>
<path d="M690.0 879.6L702.5 878.8L713.4 878.1L725.9 876.9L736.9 874.5L746.2 873.0L752.5 871.4L758.8 869.8L763.4 866.7L766.6 861.2L768.9 859.7L771.2 862.8L773.6 865.2L775.9 862.8L778.3 861.2L780.6 865.2L783.8 867.5L786.9 865.2L790.0 862.8L792.3 865.2L794.7 864.4L797.8 860.5L799.4 864.4L801.7 862.8L804.1 862.8L806.4 858.1L808.8 856.6L811.9 855.8L814.2 853.4L816.6 848.8L818.1 850.3L819.7 854.2L822.0 851.9L824.4 848.8L827.5 844.1L829.1 839.4L830.6 826.9L833.4 819.1L835.3 825.3L837.7 837.8L840.0 842.5L842.3 840.9L844.7 839.4L845.4 842.4L848.6 843.4L851.8 839.1L855.1 832.7L856.8 828.4L858.3 809.0L859.8 774.6L861.1 754.2L862.6 770.3L864.1 789.7L865.8 797.2L867.5 800.4L869.0 806.9L870.1 791.8L871.6 772.5L872.9 791.8L874.4 811.2L876.6 811.2L878.3 813.3L879.8 821.9L881.9 819.8L885.2 815.5L886.2 804.7L887.7 761.7L888.4 738.1L889.5 761.7L890.5 798.3L891.6 744.5L892.7 706.9L893.8 766.0L894.8 828.4L897.0 832.7L900.2 839.1L902.8 841.3L904.5 819.8L905.6 813.3L907.1 821.9L908.8 823.0L911.0 819.8L913.1 824.1L915.3 825.2L917.4 815.5L919.1 830.5L921.3 840.2L923.9 837.0L926.0 841.3L928.2 843.4L930.3 828.4L932.5 811.2L934.6 824.1L936.8 814.4L938.9 828.4L942.6 828.1L945.1 804.9L947.7 790.8L949.8 797.2L951.8 807.5L953.1 789.5L954.4 779.2L955.7 794.6L957.0 802.4L960.1 798.5L962.1 781.8L963.9 737.9L965.8 756.0L967.3 786.9L969.1 774.0L970.9 784.3L972.5 804.9L974.3 808.8L976.1 812.7L978.1 820.4L980.7 830.7L982.8 825.6L983.4 823.2L986.1 817.8L988.1 811.7L990.1 810.4L992.1 813.1L993.9 805.7L994.8 786.9L996.2 670.9L998.0 776.6L1000.0 846.2L1000.9 847.4L1002.2 829.9L1004.2 825.9L1005.6 800.3L1006.7 773.4L1007.6 786.9L1008.9 813.8L1010.0 879.0L1012.3 879.0L1013.7 854.1L1015.0 846.0L1016.7 844.0" fill="none" stroke="#ea0a84" stroke-width="1.8" stroke-linejoin="round"/>
<path d="M700.0 879.6L718.0 879.4L718.1 879.2L725.9 878.8L736.9 876.9L744.7 875.3L750.9 873.8L754.1 875.3L757.2 876.9L761.9 874.5L766.6 876.1L769.7 876.9L772.8 877.7L775.2 865.9L776.2 856.6L777.5 867.5L779.1 873.8L782.2 873.8L785.3 876.1L790.0 877.7L794.7 876.9L797.8 871.4L800.9 872.2L804.1 873.8L808.8 875.3L813.4 874.5L815.0 850.3L816.7 775.3L818.4 873.8L821.2 874.5L824.4 873.8L827.5 872.2L829.8 865.2L831.4 856.6L833.4 851.9L835.3 865.2L837.7 861.2L840.0 867.5L842.3 870.6L844.7 867.5L847.5 870.3L849.7 864.9L850.8 857.4L852.3 868.2L854.0 861.7L856.1 852.0L857.6 830.5L858.9 776.8L860.4 791.8L861.9 813.3L863.7 817.6L865.4 815.5L866.9 828.4L868.0 849.9L869.7 852.0L871.2 843.4L873.3 833.8L875.5 837.0L877.6 837.0L879.8 833.8L881.9 837.0L884.1 832.7L886.2 831.6L888.4 837.0L890.5 852.0L892.7 841.3L894.8 847.7L897.0 860.6L899.1 862.8L901.3 854.2L903.4 852.0L904.9 841.3L906.7 854.2L908.8 855.3L911.0 854.2L913.1 845.6L915.3 856.3L917.4 862.8L919.6 867.1L922.8 869.2L926.0 864.9L929.2 860.6L932.5 855.3L935.7 858.5L937.8 864.9L941.5 869.4L944.1 861.6L946.7 853.9L948.5 850.1L950.3 856.5L952.4 851.3L954.4 853.9L956.2 839.7L958.0 856.5L960.1 829.4L962.1 853.9L965.2 857.8L969.1 856.5L972.5 832.0L974.3 848.8L975.5 860.4L978.1 856.5L980.7 853.9L985.8 855.4L986.8 827.2L987.4 800.3L988.5 827.2L989.5 856.8L991.5 859.5L994.2 852.7L996.8 856.8L998.9 860.8L1000.9 863.5L1002.9 859.5L1004.6 851.4L1006.3 850.1L1007.6 827.2L1008.7 801.7L1009.6 840.6L1011.0 879.0L1012.3 879.0" fill="none" stroke="#52b8f6" stroke-width="1.8" stroke-linejoin="round"/>
<rect x="931.3" y="630.8" width="85.80000000000007" height="32.5" fill="none" stroke="#303030" stroke-width="1.5"/>
<text x="972.2" y="654.8" font-size="20" text-anchor="middle" fill="#1a1a1a">Sc<tspan baseline-shift="-4" font-size="14">2</tspan>CO<tspan baseline-shift="-4" font-size="14">2</tspan></text>
<line x1="611.0" y1="755.0" x2="611.0" y2="879.6" stroke="#262626" stroke-width="1.8" stroke-dasharray="6.5 6"/>
<line x1="828.5" y1="755.0" x2="828.5" y2="879.6" stroke="#262626" stroke-width="1.8" stroke-dasharray="6.5 6"/>
<line x1="616.0" y1="781.5" x2="823.5" y2="781.5" stroke="#000" stroke-width="1.5"/>
<path d="M611.0 781.5L618.5 778.7L617.5 781.5L618.5 784.3Z" fill="#000"/>
<path d="M828.5 781.5L821.0 778.7L822.0 781.5L821.0 784.3Z" fill="#000"/>
<text x="619.0" y="771.0" font-size="18">AM 1.5</text>
<path d="M621.57 879.6L621.57 876.6M647.94 879.6L647.94 874.6M674.31 879.6L674.31 876.6M700.68 879.6L700.68 874.6M727.05 879.6L727.05 876.6M753.42 879.6L753.42 874.6M779.79 879.6L779.79 876.6M806.16 879.6L806.16 874.6M832.53 879.6L832.53 876.6M858.90 879.6L858.90 874.6M885.27 879.6L885.27 876.6M911.64 879.6L911.64 874.6M938.01 879.6L938.01 876.6M964.38 879.6L964.38 874.6M990.75 879.6L990.75 876.6M595.2 848.50L598.2 848.50M595.2 817.40L600.2 817.40M595.2 786.30L598.2 786.30M595.2 755.20L600.2 755.20M595.2 724.10L598.2 724.10M595.2 693.00L600.2 693.00M595.2 661.90L598.2 661.90" stroke="#303030" stroke-width="1.4"/>
<text x="595.20" y="899.8" font-size="18" text-anchor="middle" fill="#1a1a1a">0</text>
<text x="647.94" y="899.8" font-size="18" text-anchor="middle" fill="#1a1a1a">1</text>
<text x="700.68" y="899.8" font-size="18" text-anchor="middle" fill="#1a1a1a">2</text>
<text x="753.42" y="899.8" font-size="18" text-anchor="middle" fill="#1a1a1a">3</text>
<text x="806.16" y="899.8" font-size="18" text-anchor="middle" fill="#1a1a1a">4</text>
<text x="858.90" y="899.8" font-size="18" text-anchor="middle" fill="#1a1a1a">5</text>
<text x="911.64" y="899.8" font-size="18" text-anchor="middle" fill="#1a1a1a">6</text>
<text x="964.38" y="899.8" font-size="18" text-anchor="middle" fill="#1a1a1a">7</text>
<text x="1017.12" y="899.8" font-size="18" text-anchor="middle" fill="#1a1a1a">8</text>
<text x="589.2" y="885.2" font-size="18" text-anchor="end" fill="#1a1a1a">0.0</text>
<text x="589.2" y="823.0" font-size="18" text-anchor="end" fill="#1a1a1a">0.2</text>
<text x="589.2" y="760.8" font-size="18" text-anchor="end" fill="#1a1a1a">0.4</text>
<text x="589.2" y="698.6" font-size="18" text-anchor="end" fill="#1a1a1a">0.6</text>
<text x="589.2" y="636.4" font-size="18" text-anchor="end" fill="#1a1a1a">0.8</text>
<text x="796.0" y="922.6" font-size="22.7" text-anchor="middle" fill="#1a1a1a">Photon energy (eV)</text>
<text transform="translate(551.6,741.7) rotate(-90)" font-size="23.1" text-anchor="middle" fill="#1a1a1a">Photocurrent (mA/mm<tspan baseline-shift="7.5" font-size="16.5">2</tspan>)</text>
<rect x="595.2" y="630.8" width="78.79999999999995" height="37.10000000000002" fill="#fff" stroke="#a0a0a0" stroke-width="1"/>
<line x1="597.7" y1="641.0" x2="628.2" y2="641.0" stroke="#ea0a84" stroke-width="2"/>
<text x="632.2" y="646.0" font-size="14" fill="#1a1a1a">Z-type</text>
<line x1="597.7" y1="657.5" x2="628.2" y2="657.5" stroke="#52b8f6" stroke-width="2"/>
<text x="632.2" y="662.5" font-size="14" fill="#1a1a1a">A-type</text>
<path d="M595.2 630.8L595.2 879.6L1017.1200000000001 879.6L1017.1200000000001 630.8Z" fill="none" stroke="#303030" stroke-width="1.6"/>
<text x="510.6" y="609.0" font-size="30" fill="#1a1a1a">(e)</text>
</svg></body></html>
